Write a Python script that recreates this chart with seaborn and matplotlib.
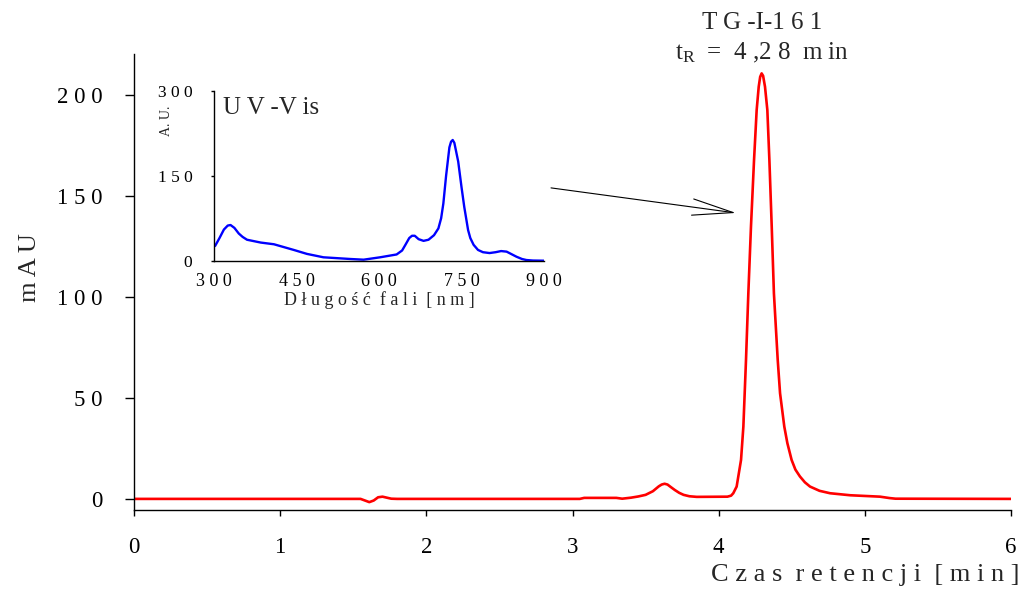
import matplotlib
matplotlib.use("Agg")
import matplotlib.pyplot as plt
import seaborn as sns
import pandas as pd
from matplotlib.ticker import FuncFormatter

# ---- main chromatogram (retention time [min], signal [mAU]) ----
time_min = [0.0, 1.55, 1.58, 1.61, 1.64, 1.67, 1.70, 1.73, 1.76, 1.80,
            3.05, 3.08, 3.30, 3.34, 3.40, 3.45, 3.50, 3.55, 3.59, 3.61,
            3.63, 3.65, 3.67, 3.70, 3.73, 3.76, 3.80, 3.85, 4.06, 4.085,
            4.100, 4.123, 4.153, 4.169, 4.187, 4.203, 4.221, 4.242, 4.260, 4.274,
            4.284, 4.294, 4.304, 4.317, 4.333, 4.347, 4.363, 4.378, 4.404, 4.420,
            4.449, 4.470, 4.499, 4.525, 4.556, 4.59, 4.625, 4.69, 4.762, 4.90,
            5.104, 5.17, 5.21, 6.0]
signal_mau = [0.0, 0.0, -0.8, -1.6, -0.8, 0.8, 1.1, 0.6, 0.1, 0.0,
              0.0, 0.5, 0.5, 0.1, 0.6, 1.2, 2.0, 3.8, 6.2, 7.1,
              7.5, 7.1, 6.0, 4.4, 3.0, 2.0, 1.3, 1.0, 1.1, 1.6,
              2.8, 6.1, 19.3, 35.8, 68.8, 101.8, 134.8, 167.8, 192.6, 204.1,
              209.0, 210.7, 209.5, 204.1, 192.6, 167.8, 134.8, 101.8, 68.8, 52.3,
              35.8, 27.6, 19.3, 14.5, 11.1, 8.2, 6.1, 4.0, 2.8, 1.8,
              1.1, 0.4, 0.1, 0.0]

# ---- UV-Vis spectrum (wavelength [nm], absorbance [A.U.]) ----
wavelength_nm = [302, 310, 318, 325, 330, 337, 345, 352, 360, 385,
                 409, 445, 469, 499, 548, 572, 602, 632, 642, 648,
                 655, 660, 665, 672, 681, 690, 700, 708, 713, 717,
                 722, 728, 731, 734, 737, 744, 750, 755, 762, 766,
                 772, 780, 789, 801, 812, 822, 832, 842, 850, 860,
                 868, 880, 900]
absorbance_au = [26, 40, 55, 62, 63, 58, 48, 42, 37, 32,
                 29, 19, 12, 6, 3, 1.8, 6, 11, 18, 28,
                 40, 44, 44, 38, 35, 37, 45, 57, 75, 101,
                 150, 200, 210, 213, 208, 175, 130, 95, 54, 40,
                 28, 19, 15, 13.5, 15, 17, 16, 11, 7, 3,
                 1.2, 0.3, 0]

main_xticks = [0, 1, 2, 3, 4, 5, 6]
main_yticks = [0, 50, 100, 150, 200]
inset_xticks = [300, 450, 600, 750, 900]
inset_yticks = [0, 150, 300]

compound = "TG-I-161"
x_label = "Czas retencji [min]"
y_label = "mAU"
inset_x_label = "Długość fali [nm]"
inset_title = "UV-Vis"


def spaced(s):
    """Imitate the wide letter spacing of the original typesetting."""
    return "  ".join(" ".join(list(w)) for w in s.split(" "))


sns.set_theme(style="ticks")
plt.rcParams["font.family"] = ["Liberation Serif", "DejaVu Serif"]
plt.rcParams["mathtext.fontset"] = "custom"
plt.rcParams["mathtext.rm"] = "Liberation Serif"

fig = plt.figure(figsize=(10.22, 5.90), dpi=100)
ax = fig.add_axes([134 / 1022, 80 / 590, 877 / 1022, 456 / 590])

df = pd.DataFrame({"t": time_min, "s": signal_mau})
sns.lineplot(data=df, x="t", y="s", ax=ax, color="#ff0000", lw=1.9, sort=False)

ax.set_xlim(0, 6)
ax.set_ylim(-5.5, 220.3)
ax.set_xticks(main_xticks)
ax.set_yticks(main_yticks)
ax.xaxis.set_major_formatter(FuncFormatter(lambda v, p: spaced(f"{v:g}")))
ax.yaxis.set_major_formatter(FuncFormatter(lambda v, p: spaced(f"{v:g}")))
ax.tick_params(axis="x", length=4.5, width=1.0, pad=15, labelsize=16.5, colors="black")
ax.tick_params(axis="y", length=6.5, width=1.0, pad=16, labelsize=16.5, colors="black")
for side in ["top", "right"]:
    ax.spines[side].set_visible(False)
for side in ["left", "bottom"]:
    ax.spines[side].set_color("black")
    ax.spines[side].set_linewidth(1.0)
ax.set_xlabel("")
ax.set_ylabel("")
fig.text(1019 / 1022, 1 - 575 / 590, spaced(x_label), ha="right", va="center", fontsize=19)
fig.text(30 / 1022, 1 - 268 / 590, spaced(y_label), ha="center", va="center",
         rotation=90, fontsize=19)

# compound annotation
ax.text(4.3, 235.5, "T G -I-1 6 1", ha="center", va="center", fontsize=18, clip_on=False)
ax.text(4.3, 221.0, r"$\mathregular{t_R}$  =  4 ,2 8  m in", ha="center", va="center",
        fontsize=18, clip_on=False)

# arrow from inset to main peak
ax.annotate("", xy=(4.118, 141.6), xytext=(2.853, 154.0),
            arrowprops=dict(arrowstyle="->,head_length=2.1,head_width=0.42",
                            color="black", lw=0.8, mutation_scale=14,
                            shrinkA=0, shrinkB=0))

# ---- inset ----
axi = fig.add_axes([214 / 1022, 1 - 260.7 / 590, 330 / 1022, 170 / 590])
axi.patch.set_alpha(0)
di = pd.DataFrame({"w": wavelength_nm, "a": absorbance_au})
sns.lineplot(data=di, x="w", y="a", ax=axi, color="#0000ff", lw=1.7, sort=False)
axi.set_xlim(300, 900)
axi.set_ylim(0, 300)
axi.set_xticks(inset_xticks)
axi.set_yticks(inset_yticks)
axi.xaxis.set_major_formatter(FuncFormatter(lambda v, p: spaced(f"{v:g}")))
axi.yaxis.set_major_formatter(FuncFormatter(lambda v, p: spaced(f"{v:g}")))
axi.tick_params(axis="x", length=0, pad=9, labelsize=13, colors="black")
axi.tick_params(axis="y", length=2.5, width=1.0, pad=13, labelsize=12.5, colors="black")
for side in ["top", "right"]:
    axi.spines[side].set_visible(False)
for side in ["left", "bottom"]:
    axi.spines[side].set_color("black")
    axi.spines[side].set_linewidth(1.0)
axi.set_xlabel(spaced(inset_x_label), fontsize=13, labelpad=1)
axi.set_ylabel("")
axi.text(-0.145, 0.91, "A. U.", transform=axi.transAxes, rotation=90,
         ha="center", va="top", fontsize=10)
axi.text(0.026, 0.898, "U V -V is", transform=axi.transAxes, ha="left", va="center",
         fontsize=18)

fig.savefig("out.png", dpi=100)
